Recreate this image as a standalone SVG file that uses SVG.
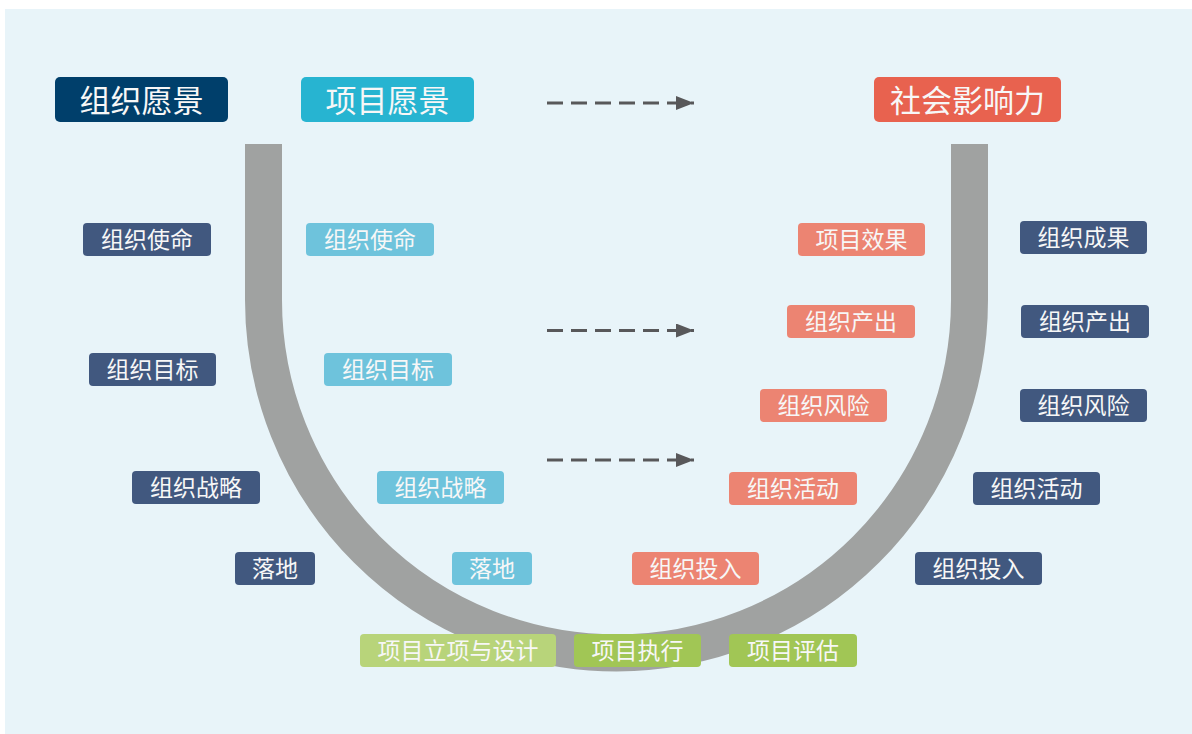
<svg xmlns="http://www.w3.org/2000/svg" width="1192" height="734" viewBox="0 0 1192 734">
<style>
.t{font-family:"Noto Sans CJK SC","Noto Sans",sans-serif;fill:#F7F7F7;text-anchor:middle;dominant-baseline:central}
.big{font-size:31px}
.sm{font-size:23px}
.dk{fill:#41587F}
.lb{fill:#6EC3DC}
.sa{fill:#EC8472}
.g1{fill:#B8D47A}
.g2{fill:#A1C655}
.arr{stroke:#58585A;stroke-width:3;stroke-dasharray:16 8;fill:none}
</style>
<defs>
<marker id="ah" markerWidth="20" markerHeight="14" refX="18" refY="7" orient="auto" markerUnits="userSpaceOnUse">
<path d="M0,0 L18,7 L0,14 Z" fill="#58585A"/>
</marker>
</defs>
<rect x="5" y="9" width="1187" height="725" fill="#E8F4F9"/>
<g id="u-shape">
<path d="M263.5,144 V300 A353,353 0 0 0 969.5,300 V144" fill="none" stroke="#A0A2A1" stroke-width="37"/>
</g>
<g id="connectors">
<path class="arr" d="M547,103 H694" marker-end="url(#ah)"/>
<path class="arr" d="M547,330.5 H694" marker-end="url(#ah)"/>
<path class="arr" d="M547,460 H694" marker-end="url(#ah)"/>
</g>
<g id="n-org-vision"><rect x="55" y="77" width="173" height="45" rx="5" fill="#003F6B"/><text class="t big" x="141.5" y="98.5">组织愿景</text></g>
<g id="n-proj-vision"><rect x="301" y="77" width="173" height="45" rx="5" fill="#27B4D1"/><text class="t big" x="387.5" y="98.5">项目愿景</text></g>
<g id="n-impact"><rect x="874" y="77" width="187" height="45" rx="5" fill="#E8624F"/><text class="t big" x="967.5" y="98.5">社会影响力</text></g>

<g id="n-mission-dk"><rect class="dk" x="83" y="223" width="128" height="33" rx="4"/><text class="t sm" x="147" y="238">组织使命</text></g>
<g id="n-mission-lb"><rect class="lb" x="306" y="223" width="128" height="33" rx="4"/><text class="t sm" x="370" y="238">组织使命</text></g>
<g id="n-effect"><rect class="sa" x="798" y="223" width="127" height="33" rx="4"/><text class="t sm" x="861.5" y="238">项目效果</text></g>
<g id="n-result"><rect class="dk" x="1020" y="221" width="127" height="33" rx="4"/><text class="t sm" x="1083.5" y="236">组织成果</text></g>

<g id="n-output-sa"><rect class="sa" x="787" y="305" width="128" height="33" rx="4"/><text class="t sm" x="851" y="320">组织产出</text></g>
<g id="n-output-dk"><rect class="dk" x="1021" y="305" width="128" height="33" rx="4"/><text class="t sm" x="1085" y="320">组织产出</text></g>

<g id="n-goal-dk"><rect class="dk" x="89" y="353" width="127" height="33" rx="4"/><text class="t sm" x="152.5" y="368">组织目标</text></g>
<g id="n-goal-lb"><rect class="lb" x="324" y="353" width="128" height="33" rx="4"/><text class="t sm" x="388" y="368">组织目标</text></g>

<g id="n-risk-sa"><rect class="sa" x="760" y="389" width="127" height="33" rx="4"/><text class="t sm" x="823.5" y="404">组织风险</text></g>
<g id="n-risk-dk"><rect class="dk" x="1020" y="389" width="127" height="33" rx="4"/><text class="t sm" x="1083.5" y="404">组织风险</text></g>

<g id="n-strat-dk"><rect class="dk" x="132" y="471" width="128" height="33" rx="4"/><text class="t sm" x="196" y="486">组织战略</text></g>
<g id="n-strat-lb"><rect class="lb" x="377" y="471" width="127" height="33" rx="4"/><text class="t sm" x="440.5" y="486">组织战略</text></g>
<g id="n-act-sa"><rect class="sa" x="729" y="472" width="128" height="33" rx="4"/><text class="t sm" x="793" y="487">组织活动</text></g>
<g id="n-act-dk"><rect class="dk" x="973" y="472" width="127" height="33" rx="4"/><text class="t sm" x="1036.5" y="487">组织活动</text></g>

<g id="n-land-dk"><rect class="dk" x="235" y="552" width="80" height="33" rx="4"/><text class="t sm" x="275" y="567">落地</text></g>
<g id="n-land-lb"><rect class="lb" x="452" y="552" width="80" height="33" rx="4"/><text class="t sm" x="492" y="567">落地</text></g>
<g id="n-input-sa"><rect class="sa" x="632" y="552" width="127" height="33" rx="4"/><text class="t sm" x="695.5" y="567">组织投入</text></g>
<g id="n-input-dk"><rect class="dk" x="915" y="552" width="127" height="33" rx="4"/><text class="t sm" x="978.5" y="567">组织投入</text></g>

<g id="n-design"><rect class="g1" x="360" y="634" width="196" height="33" rx="4"/><text class="t sm" x="458" y="649">项目立项与设计</text></g>
<g id="n-exec"><rect class="g2" x="574" y="634" width="127" height="33" rx="4"/><text class="t sm" x="637.5" y="649">项目执行</text></g>
<g id="n-eval"><rect class="g2" x="729" y="634" width="128" height="33" rx="4"/><text class="t sm" x="793" y="649">项目评估</text></g>
</svg>
